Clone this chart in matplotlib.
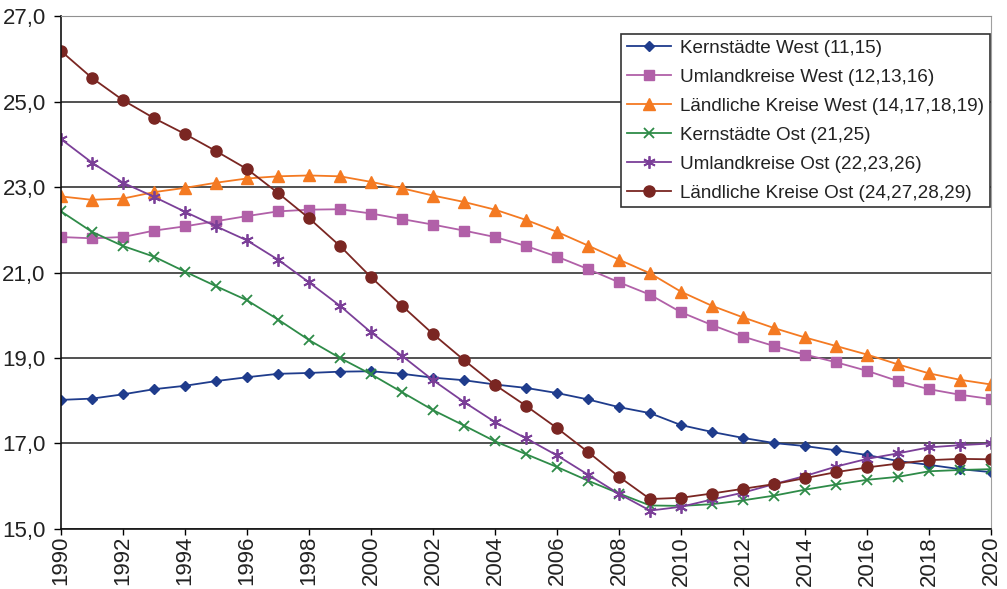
import numpy as np
import matplotlib
matplotlib.use("Agg")
import matplotlib.pyplot as plt
from matplotlib.ticker import FuncFormatter

plt.rcParams['font.family'] = ['Liberation Sans', 'DejaVu Sans']

years = list(range(1990, 2021))

kern_west = [18.02, 18.05, 18.15, 18.27, 18.35, 18.46, 18.55, 18.63, 18.65, 18.68,
             18.69, 18.63, 18.54, 18.48, 18.38, 18.30, 18.18, 18.03, 17.85, 17.71,
             17.43, 17.27, 17.13, 17.01, 16.94, 16.84, 16.73, 16.59, 16.50, 16.40, 16.33]
umland_west = [21.83, 21.80, 21.83, 21.98, 22.08, 22.20, 22.32, 22.43, 22.47, 22.48,
               22.38, 22.25, 22.12, 21.98, 21.83, 21.62, 21.37, 21.08, 20.77, 20.48,
               20.07, 19.77, 19.50, 19.28, 19.08, 18.90, 18.70, 18.46, 18.27, 18.14, 18.04]
laendl_west = [22.78, 22.70, 22.73, 22.88, 22.98, 23.10, 23.20, 23.25, 23.27, 23.25,
               23.12, 22.97, 22.80, 22.65, 22.47, 22.23, 21.95, 21.63, 21.30, 20.98,
               20.55, 20.22, 19.95, 19.70, 19.48, 19.28, 19.08, 18.85, 18.64, 18.49, 18.38]
kern_ost = [22.43, 21.95, 21.62, 21.37, 21.02, 20.68, 20.35, 19.90, 19.42, 19.00,
            18.62, 18.20, 17.78, 17.42, 17.05, 16.75, 16.45, 16.13, 15.83, 15.55,
            15.54, 15.58, 15.67, 15.78, 15.92, 16.04, 16.15, 16.22, 16.35, 16.38, 16.40]
umland_ost = [24.12, 23.57, 23.10, 22.77, 22.42, 22.08, 21.75, 21.30, 20.77, 20.22,
              19.60, 19.05, 18.48, 17.97, 17.50, 17.12, 16.72, 16.27, 15.82, 15.43,
              15.52, 15.69, 15.85, 16.05, 16.24, 16.46, 16.64, 16.77, 16.91, 16.96, 17.00]
laendl_ost = [26.18, 25.55, 25.03, 24.61, 24.24, 23.84, 23.42, 22.86, 22.27, 21.62,
              20.89, 20.22, 19.56, 18.95, 18.37, 17.88, 17.36, 16.80, 16.22, 15.70,
              15.73, 15.83, 15.94, 16.05, 16.19, 16.33, 16.44, 16.53, 16.61, 16.64, 16.63]

labels = ["Kernstädte West (11,15)", "Umlandkreise West (12,13,16)",
          "Ländliche Kreise West (14,17,18,19)", "Kernstädte Ost (21,25)",
          "Umlandkreise Ost (22,23,26)", "Ländliche Kreise Ost (24,27,28,29)"]

y_ticks = [15, 17, 19, 21, 23, 25, 27]
x_ticks = list(range(1990, 2021, 2))

series = [kern_west, umland_west, laendl_west, kern_ost, umland_ost, laendl_ost]
styles = [
    dict(color="#1f3c8c", marker="D", ms=5.5, mfc="#1f3c8c", mec="#1f3c8c"),
    dict(color="#b160a8", marker="s", ms=7.5, mfc="#b160a8", mec="#b160a8"),
    dict(color="#f47a22", marker="^", ms=8, mfc="#f47a22", mec="#f47a22"),
    dict(color="#2e8b48", marker="x", ms=7.5, mew=1.3),
    dict(color="#7b3f98", marker=(6, 2, 0), ms=9, mew=1.3),
    dict(color="#7a2622", marker="o", ms=8, mfc="#7a2622", mec="#7a2622"),
]

fig = plt.figure(figsize=(10.07, 5.89), dpi=100)
ax = fig.add_axes([0.0606, 0.1019, 0.9236, 0.8709])

for vals, lab, st in zip(series, labels, styles):
    ax.plot(years, vals, lw=1.3, label=lab, **st)

ax.set_xlim(1990, 2020)
ax.set_ylim(15, 27)
ax.set_yticks(y_ticks)
ax.set_xticks(x_ticks)
ax.yaxis.set_major_formatter(FuncFormatter(lambda v, p: f"{v:.1f}".replace(".", ",")))
ax.tick_params(axis="x", labelrotation=90, labelsize=16, length=4, width=1, pad=1)
ax.tick_params(axis="y", labelsize=16, length=5, width=1, pad=6)
for lbl in ax.get_xticklabels() + ax.get_yticklabels():
    lbl.set_color("#222222")

ax.grid(axis="y", color="#222222", lw=1.1)
ax.set_axisbelow(True)
ax.spines["left"].set_color("#111111")
ax.spines["bottom"].set_color("#111111")
ax.spines["left"].set_linewidth(1.2)
ax.spines["bottom"].set_linewidth(1.2)
ax.spines["right"].set_color("#a0a0a0")
ax.spines["top"].set_color("#909090")

leg = ax.legend(loc="upper right", bbox_to_anchor=(0.9985, 0.965), fontsize=13.6,
                frameon=True, fancybox=False, edgecolor="#333333", framealpha=1,
                handlelength=2.3, handletextpad=0.5, labelspacing=0.62,
                borderpad=0.3, borderaxespad=0)
leg.get_frame().set_linewidth(1.2)
for t in leg.get_texts():
    t.set_color("#222222")

fig.savefig("out.png", dpi=100)
